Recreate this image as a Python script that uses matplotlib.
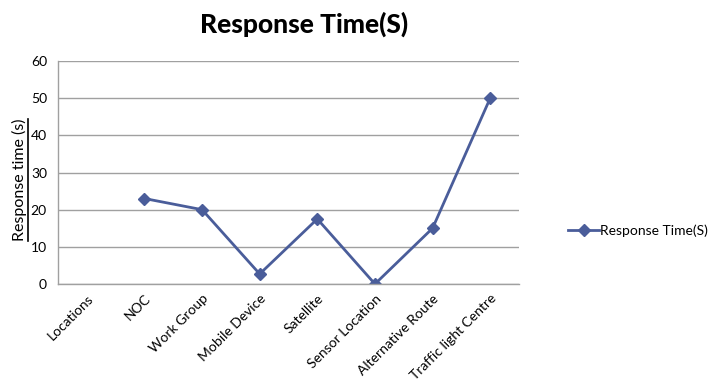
import matplotlib
matplotlib.use("Agg")
import matplotlib.pyplot as plt
from matplotlib.lines import Line2D
import numpy as np

categories = ["Locations", "NOC", "Work Group", "Mobile Device", "Satellite",
              "Sensor Location", "Alternative Route", "Traffic light Centre"]
response_time = [np.nan, 23, 20, 2.7, 17.5, 0, 15, 50]
series_name = "Response Time(S)"
title = "Response Time(S)"
ylabel = "Response time (s)"
yticks = [0, 10, 20, 30, 40, 50, 60]

plt.rcParams['font.family'] = ['Lato', 'DejaVu Sans']

fig = plt.figure(figsize=(7.08, 3.81), dpi=100)
ax = fig.add_axes([58/708, 1-284/381, (519-58)/708, (284-61)/381])

color = '#4A5D9A'
x = np.arange(len(categories))
ax.plot(x, response_time, color=color, lw=2, marker='D', ms=6,
        markeredgecolor=color, markerfacecolor=color, label=series_name)

ax.set_xlim(-0.5, len(categories) - 0.5)
ax.set_ylim(0, 60)
ax.set_yticks(yticks)
ax.set_yticklabels([str(v) for v in yticks], fontsize=10)
ax.set_xticks(x)
ax.set_xticklabels(categories, rotation=45, ha='right', rotation_mode='anchor', fontsize=10)
ax.tick_params(axis='both', length=0, pad=8)
ax.tick_params(axis='x', pad=6)
ax.grid(axis='y', color='#A0A0A0', lw=1)
ax.set_axisbelow(True)
for s in ['top', 'right']:
    ax.spines[s].set_visible(False)
for s in ['left', 'bottom']:
    ax.spines[s].set_color('#A0A0A0')
    ax.spines[s].set_linewidth(1)

# y label (underlined)
yl = fig.text(19/708, 1-180/381, ylabel, rotation=90, ha='center', va='center', fontsize=11.5)

fig.text(0.43, 0.935, title, ha='center', va='center', fontsize=19, fontweight='black')

leg = ax.legend(loc='center left', bbox_to_anchor=(1.08, 0.24), frameon=False,
                fontsize=10, handlelength=2.2, handletextpad=0.1)

fig.canvas.draw()
bb = yl.get_window_extent(renderer=fig.canvas.get_renderer())
W, H = fig.bbox.width, fig.bbox.height
ux = (bb.x1 + 1) / W
fig.add_artist(Line2D([ux, ux], [bb.y0 / H, bb.y1 / H], color='black', lw=1.2,
                      transform=fig.transFigure))

fig.savefig("out.png", dpi=100)
